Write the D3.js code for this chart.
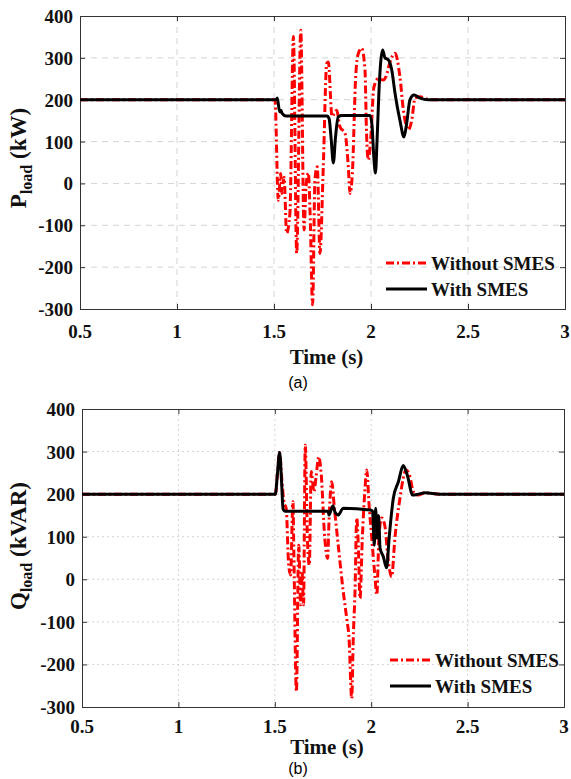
<!DOCTYPE html>
<html>
<head>
<meta charset="utf-8">
<script src="https://cdn.jsdelivr.net/npm/d3@7"></script>
<style>
  body { margin: 0; background: #fff; }
  svg { display: block; }
</style>
</head>
<body>
<svg id="chart" width="571" height="779"></svg>
<script>
// time axis and value axis ticks
const timeTicks = [0.5, 1, 1.5, 2, 2.5, 3]
const valueTicks = [-300, -200, -100, 0, 100, 200, 300, 400]
const seriesNames = ['Without SMES', 'With SMES']

// (a) active power, [time s, kW]
const pWithout = [[0.5,200],[1.505,200],[1.522,-40],[1.535,24],[1.540,-24],[1.552,15],[1.565,-119],[1.582,-71],
  [1.600,351],[1.617,-167],[1.638,366],[1.655,-111],[1.665,-8],[1.677,25],[1.686,-71],[1.699,-290],[1.711,8],
  [1.723,40],[1.737,-167],[1.754,40],[1.772,287],[1.780,290],[1.799,160],[1.823,175],[1.840,135],[1.866,120],
  [1.883,40],[1.892,-24],[1.904,25],[1.921,255],[1.935,311],[1.952,323],[1.969,271],[1.977,120],[1.986,56],
  [1.998,104],[2.015,230],[2.036,250],[2.063,247],[2.077,255],[2.098,290],[2.124,311],[2.149,255],[2.167,175],
  [2.192,128],[2.210,151],[2.227,204],[2.253,207],[2.304,200],[3,200]]
const pWith = [[0.5,200],[1.512,200],[1.517,204],[1.529,171],[1.536,175],[1.541,168],[1.562,161],[1.773,161],
  [1.784,155],[1.794,110],[1.806,49],[1.817,110],[1.831,159],[1.851,162],[1.995,162],[2.005,140],[2.015,60],
  [2.023,25],[2.031,100],[2.041,220],[2.050,290],[2.060,319],[2.072,300],[2.088,296],[2.107,271],[2.124,215],
  [2.149,151],[2.170,111],[2.184,144],[2.201,200],[2.222,211],[2.253,204],[2.294,200],[3,200]]

// (b) reactive power, [time s, kVAR]
const qWithout = [[0.5,200],[1.503,200],[1.514,250],[1.525,298],[1.537,230],[1.548,180],[1.559,167],[1.572,33],
  [1.582,10],[1.594,182],[1.599,57],[1.612,-264],[1.624,80],[1.634,-60],[1.641,20],[1.649,-60],[1.658,315],
  [1.669,97],[1.679,33],[1.689,253],[1.703,206],[1.714,240],[1.728,288],[1.741,245],[1.759,97],[1.774,49],
  [1.781,135],[1.795,229],[1.809,167],[1.829,80],[1.855,-29],[1.873,-92],[1.885,-138],[1.899,-280],[1.907,-138],
  [1.916,-29],[1.925,144],[1.933,80],[1.942,-45],[1.954,97],[1.968,214],[1.977,257],[1.989,174],[2.003,97],
  [2.020,3],[2.029,-37],[2.040,97],[2.054,144],[2.071,125],[2.089,41],[2.106,6],[2.123,97],[2.149,190],
  [2.181,257],[2.201,241],[2.218,206],[2.244,198],[2.279,203],[2.357,200],[3,200]]
const qWith = [[0.5,200],[1.503,200],[1.514,250],[1.525,298],[1.535,230],[1.543,165],[1.553,160],[1.776,160],
  [1.781,151],[1.795,167],[1.802,172],[1.812,158],[1.829,151],[1.855,167],[1.994,163],[2.007,160],[2.016,80],
  [2.023,167],[2.030,97],[2.038,150],[2.046,73],[2.063,53],[2.080,27],[2.093,97],[2.115,191],[2.141,229],
  [2.166,267],[2.187,245],[2.215,198],[2.244,200],[2.279,203],[2.357,200],[3,200]]

const serif = '"Liberation Serif", "Times New Roman", "DejaVu Serif", serif'
const svg = d3.select('#chart')

const panels = [
  {id:'a', left:80, right:565, top:16, bottom:309, sym:'P', unit:'(kW)', labelY:158, without:pWithout, withS:pWith,
   grid:'6,5', legendX:386, legendY:263, tickDy:29, titleY:364, capY:388},
  {id:'b', left:82, right:564, top:409, bottom:707, sym:'Q', unit:'(kVAR)', labelY:546, without:qWithout, withS:qWith,
   grid:'2,3', legendX:390, legendY:660, tickDy:26, titleY:754, capY:774}
]

const boldText = (sel, size) => sel.attr('font-family', serif).attr('font-weight', 'bold')
  .attr('font-size', size).attr('fill', '#111')

panels.forEach(p => {
  const x = d3.scaleLinear().domain([0.5, 3]).range([p.left, p.right])
  const y = d3.scaleLinear().domain([-300, 400]).range([p.bottom, p.top])
  const g = svg.append('g')

  // grid
  g.selectAll('.vgrid').data(timeTicks.slice(1, -1)).enter().append('line')
    .attr('x1', d => x(d)).attr('x2', d => x(d)).attr('y1', p.top).attr('y2', p.bottom)
    .attr('stroke', '#d4d4d4').attr('stroke-width', 1).attr('stroke-dasharray', p.grid)
  g.selectAll('.hgrid').data(valueTicks.slice(1, -1)).enter().append('line')
    .attr('y1', d => y(d)).attr('y2', d => y(d)).attr('x1', p.left).attr('x2', p.right)
    .attr('stroke', '#d4d4d4').attr('stroke-width', 1).attr('stroke-dasharray', p.grid)

  // axes, ticks inward on all sides
  const xb = d3.axisBottom(x).tickValues(timeTicks).tickSize(-5).tickFormat('')
  const xt = d3.axisTop(x).tickValues(timeTicks).tickSize(-5).tickFormat('')
  const yl = d3.axisLeft(y).tickValues(valueTicks).tickSize(-5).tickFormat('')
  const yr = d3.axisRight(y).tickValues(valueTicks).tickSize(-5).tickFormat('')
  g.append('g').attr('transform', `translate(0,${p.bottom})`).call(xb)
  g.append('g').attr('transform', `translate(0,${p.top})`).call(xt)
  g.append('g').attr('transform', `translate(${p.left},0)`).call(yl)
  g.append('g').attr('transform', `translate(${p.right},0)`).call(yr)
  g.selectAll('.domain, .tick line').attr('stroke', '#333').attr('stroke-width', 1)

  // tick labels
  g.selectAll('.xl').data(timeTicks).enter().append('text').call(boldText, 19)
    .attr('x', d => x(d)).attr('y', p.bottom + p.tickDy).attr('text-anchor', 'middle').text(d => d)
  g.selectAll('.yl').data(valueTicks).enter().append('text').call(boldText, 19)
    .attr('x', p.left - 7).attr('y', d => y(d) + 7).attr('text-anchor', 'end').text(d => d)

  // lines
  const clipId = 'clip-' + p.id
  svg.append('clipPath').attr('id', clipId).append('rect')
    .attr('x', p.left).attr('y', p.top).attr('width', p.right - p.left).attr('height', p.bottom - p.top)
  const line = d3.line().x(d => x(d[0])).y(d => y(d[1])).curve(d3.curveMonotoneX)
  const lines = g.append('g').attr('clip-path', `url(#${clipId})`)
  lines.append('path').datum(p.without).attr('d', line).attr('fill', 'none')
    .attr('stroke', '#ff0000').attr('stroke-width', 3).attr('stroke-dasharray', '8,3,2,3')
  lines.append('path').datum(p.withS).attr('d', line).attr('fill', 'none')
    .attr('stroke', '#000').attr('stroke-width', 3)

  // legend
  const leg = g.append('g')
  seriesNames.forEach((name, i) => {
    const ly = p.legendY + i * 26
    leg.append('line').attr('x1', p.legendX).attr('x2', p.legendX + 41).attr('y1', ly).attr('y2', ly)
      .attr('stroke', i === 0 ? '#ff0000' : '#000').attr('stroke-width', 3)
      .attr('stroke-dasharray', i === 0 ? '8,3,2,3' : null)
    leg.append('text').call(boldText, 19).attr('x', p.legendX + 45).attr('y', ly + 7).text(name)
  })

  // axis titles
  g.append('text').call(boldText, 21)
    .attr('x', (p.left + p.right) / 2 + 4).attr('y', p.titleY).attr('text-anchor', 'middle').text('Time (s)')
  const yt = g.append('text').call(boldText, 23)
    .attr('transform', `translate(26,${p.labelY}) rotate(-90)`).attr('text-anchor', 'middle')
  yt.append('tspan').text(p.sym)
  yt.append('tspan').attr('dy', 6).attr('font-size', 16).text('load')
  yt.append('tspan').attr('dy', -6).text(' ' + p.unit)

  g.append('text').attr('x', 298).attr('y', p.capY).attr('text-anchor', 'middle')
    .attr('font-family', '"Liberation Sans", Arial, sans-serif').attr('font-size', 16).text(`(${p.id})`)
})
</script>
</body>
</html>
